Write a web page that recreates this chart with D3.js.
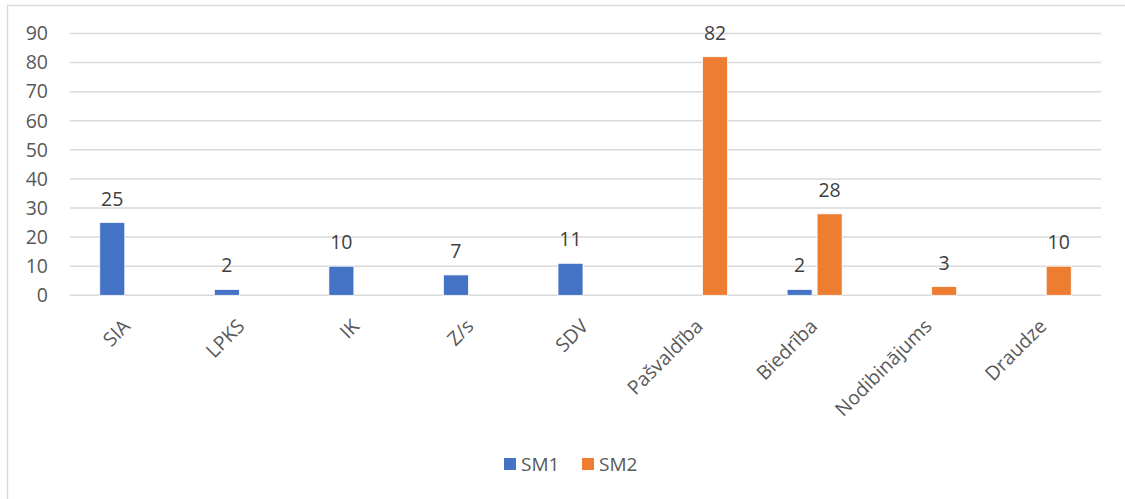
<!DOCTYPE html>
<html>
<head>
<meta charset="utf-8">
<script src="https://cdn.jsdelivr.net/npm/d3@7"></script>
<style>
  html, body { margin: 0; padding: 0; background: #fff; }
  svg { display: block; font-family: "Open Sans", "Noto Sans", sans-serif; }
</style>
</head>
<body>
<svg id="chart" width="1125" height="499"></svg>
<script>
// Organisation types
const categories = ["SIA", "LPKS", "IK", "Z/s", "SDV", "Pašvaldība", "Biedrība", "Nodibinājums", "Draudze"];
// Series names
const seriesNames = ["SM1", "SM2"];
// Counts per series (null = no bar)
const sm1Values = [25, 2, 10, 7, 11, null, 2, null, null];
const sm2Values = [null, null, null, null, null, 82, 28, 3, 10];
// Value axis ticks
const yTicks = [0, 10, 20, 30, 40, 50, 60, 70, 80, 90];

const colors = { SM1: "#4472C4", SM2: "#ED7D31" };
const seriesValues = { SM1: sm1Values, SM2: sm2Values };

const svg = d3.select("#chart");

// Outer chart frame
svg.append("rect")
  .attr("x", 7.5).attr("y", 5.5)
  .attr("width", 1130).attr("height", 510)
  .attr("fill", "none").attr("stroke", "#d9d9d9").attr("stroke-width", 1.5);

const plot = { left: 70, right: 1101, top: 33.5, bottom: 295.3 };

const x0 = d3.scaleBand().domain(categories).range([plot.left, plot.right]).padding(0);
const cluster = 55;
const x1 = d3.scaleBand().domain(seriesNames).range([0, cluster]).paddingInner(1 / 6).paddingOuter(0);
const y = d3.scaleLinear().domain([0, 90]).range([plot.bottom, plot.top]);

// Horizontal gridlines
svg.append("g")
  .selectAll("line")
  .data(yTicks)
  .join("line")
  .attr("x1", plot.left).attr("x2", plot.right)
  .attr("y1", d => y(d)).attr("y2", d => y(d))
  .attr("stroke", "#d9d9d9").attr("stroke-width", 1.5);

// Value axis labels
const yAxis = d3.axisLeft(y).tickValues(yTicks).tickSize(0).tickPadding(0);
svg.append("g")
  .attr("transform", `translate(48,0)`)
  .call(yAxis)
  .call(g => g.select(".domain").remove())
  .call(g => g.selectAll("text")
    .attr("fill", "#595959")
    .attr("font-size", "19.5px")
    .attr("font-family", "'Open Sans', 'Noto Sans', sans-serif"));

// Bars
const rows = [];
categories.forEach((c, i) => {
  seriesNames.forEach(s => {
    const v = seriesValues[s][i];
    if (v !== null && v !== undefined) rows.push({ cat: c, series: s, value: v });
  });
});

const barX = d => x0(d.cat) + (x0.bandwidth() - cluster) / 2 + x1(d.series);

svg.append("g")
  .selectAll("rect")
  .data(rows)
  .join("rect")
  .attr("x", barX)
  .attr("y", d => y(d.value))
  .attr("width", x1.bandwidth())
  .attr("height", d => y(0) - y(d.value))
  .attr("fill", d => colors[d.series])
  .attr("stroke", "#fff").attr("stroke-width", 0.75);

// Data labels
svg.append("g")
  .selectAll("text")
  .data(rows)
  .join("text")
  .attr("x", d => barX(d) + x1.bandwidth() / 2)
  .attr("y", d => y(d.value) - 17)
  .attr("text-anchor", "middle")
  .attr("fill", "#404040")
  .attr("font-size", "19.5px")
  .text(d => d.value);

// Category labels, rotated
svg.append("g")
  .selectAll("text")
  .data(categories)
  .join("text")
  .attr("transform", d => `translate(${x0(d) + x0.bandwidth() / 2 + 4},327.5) rotate(-45)`)
  .attr("text-anchor", "end")
  .attr("fill", "#595959")
  .attr("font-size", "19.5px")
  .text(d => d);

// Legend
const legendItems = [
  { name: "SM1", x: 504 },
  { name: "SM2", x: 582 }
];
const lg = svg.append("g");
lg.selectAll("rect")
  .data(legendItems)
  .join("rect")
  .attr("x", d => d.x).attr("y", 458)
  .attr("width", 12).attr("height", 12)
  .attr("fill", d => colors[d.name]);
lg.selectAll("text")
  .data(legendItems)
  .join("text")
  .attr("x", d => d.x + 17).attr("y", 471)
  .attr("fill", "#595959")
  .attr("font-size", "19px")
  .text(d => d.name);
</script>
</body>
</html>
